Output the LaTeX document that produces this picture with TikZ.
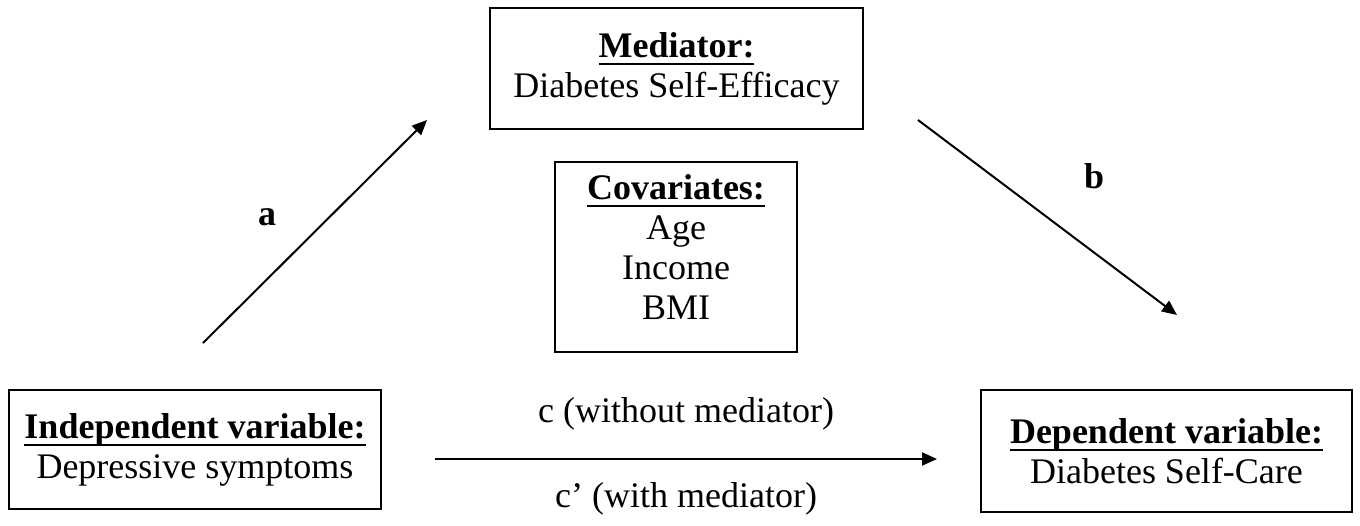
\documentclass[tikz,border=0pt]{standalone}
\usepackage{fontspec}
\setmainfont{Liberation Serif}
\usetikzlibrary{arrows.meta}
\newcommand\myul[1]{\setbox0\hbox{#1}\rlap{\rule[-8pt]{\wd0}{2.6pt}}\box0}
\begin{document}
\begin{tikzpicture}[x=1pt,y=-1pt,
  box/.style={draw, line width=2pt, inner sep=0pt, align=center,
    font=\fontsize{36}{40}\selectfont},
  txt/.style={align=center, inner sep=0pt, font=\fontsize{36}{40}\selectfont},
  arr/.style={line width=2pt, -{Triangle[length=15pt,width=13pt]}},
  lbl/.style={inner sep=0pt, font=\fontsize{36}{40}\selectfont\bfseries},
  clbl/.style={inner sep=0pt, font=\fontsize{36}{40}\selectfont}]
\useasboundingbox (0,0) rectangle (1360,525);
\fill[white] (0,0) rectangle (1360,525);

\node[box, minimum width=373, minimum height=121] (med) at (676.5,68.5)
  {\myul{\textbf{Mediator:}}\\Diabetes Self-Efficacy};
\node[box, minimum width=242, minimum height=190] (cov) at (676,257) {};
\node[txt] (covtxt) at (676,247)
  {\myul{\textbf{Covariates:}}\\Age\\Income\\BMI};
\node[box, minimum width=372, minimum height=119] (ind) at (195,449.5)
  {\myul{\textbf{Independent variable:}}\\Depressive symptoms};
\node[box, minimum width=371, minimum height=122] (dep) at (1166.5,451)
  {\myul{\textbf{Dependent variable:}}\\Diabetes Self-Care};

\coordinate (a0) at (203,343);
\coordinate (a1) at (427,120);
\coordinate (b0) at (918,120);
\coordinate (b1) at (1177,315);
\coordinate (c0) at (435,459);
\coordinate (c1) at (937,459);

\draw[arr] (a0) -- (a1);
\draw[arr] (b0) -- (b1);
\draw[arr] (c0) -- (c1);

\node[lbl] (la) at (267,217) {a};
\node[lbl] (lb) at (1094,176) {b};
\node[clbl] (lc) at (686,414) {c (without mediator)};
\node[clbl] (lcp) at (686,499) {c’ (with mediator)};
\end{tikzpicture}
\end{document}
